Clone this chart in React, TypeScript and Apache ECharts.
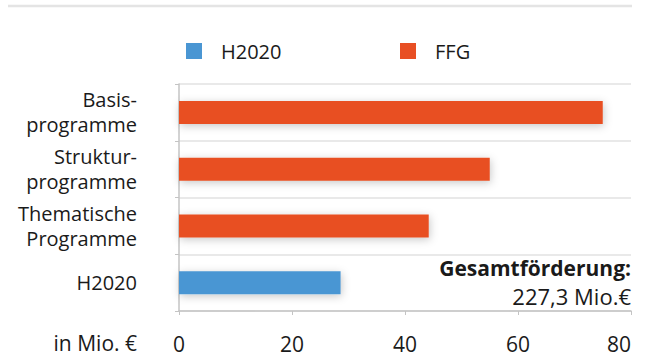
import React, { useEffect, useRef } from "react";
import * as echarts from "echarts";

const categories = ["H2020", "Thematische\nProgramme", "Struktur-\nprogramme", "Basis-\nprogramme"];
const h2020Values = [28.6, null, null, null];
const ffgValues = [null, 44.2, 55.0, 75.0];
const seriesNames = ["H2020", "FFG"];
const totalTitle = "Gesamtförderung:";
const totalValue = "227,3 Mio.€";
const unitLabel = "in Mio. €";

const FONT = "Open Sans";
const TEXT = "#1a1a1a";

export default function App() {
  const ref = useRef<HTMLDivElement>(null);
  useEffect(() => {
    const chart = echarts.init(ref.current!, null, { renderer: "svg" });
    const shadow = { shadowBlur: 8, shadowColor: "rgba(0,0,0,0.22)", shadowOffsetX: 1, shadowOffsetY: 2 };
    const legendText = { fontFamily: FONT, fontSize: 20, color: TEXT, padding: [0, 0, 0, 14] };
    chart.setOption({
      animation: false,
      textStyle: { fontFamily: FONT, color: TEXT },
      legend: [
        { data: [seriesNames[0]], left: 181, top: 36, itemWidth: 16, itemHeight: 16, icon: "rect", textStyle: legendText },
        { data: [seriesNames[1]], left: 395, top: 36, itemWidth: 16, itemHeight: 16, icon: "rect", textStyle: legendText },
      ],
      grid: { left: 179, right: 18, top: 84, bottom: 46, containLabel: false },
      xAxis: {
        type: "value",
        min: 0,
        max: 80,
        interval: 20,
        axisLine: { show: true, lineStyle: { color: "#c4c4c4", width: 1.5 } },
        axisTick: { show: true, length: 4, lineStyle: { color: "#c4c4c4" } },
        splitLine: { show: false },
        axisLabel: { fontFamily: FONT, fontSize: 21, lineHeight: 20, color: TEXT, margin: 23, alignMaxLabel: "right" },
      },
      yAxis: {
        type: "category",
        data: categories,
        axisLine: { show: true, lineStyle: { color: "#c4c4c4", width: 1.5 } },
        axisTick: { show: true, length: 4, lineStyle: { color: "#c4c4c4" } },
        splitLine: { show: true, lineStyle: { color: "#e2e2e2", width: 1.5 } },
        axisLabel: { fontFamily: FONT, fontSize: 20, color: TEXT, margin: 42, lineHeight: 25, align: "right" },
      },
      series: [
        { name: seriesNames[0], type: "bar", stack: "t", barWidth: 23, data: h2020Values, itemStyle: { color: "#4a96d3", ...shadow } },
        { name: seriesNames[1], type: "bar", stack: "t", barWidth: 23, data: ffgValues, itemStyle: { color: "#e84f24", ...shadow } },
      ],
      graphic: [
        { type: "line", shape: { x1: 8, y1: 6, x2: 632, y2: 6 }, style: { stroke: "#e4e4e4", lineWidth: 2.5 } },
        { type: "text", right: 18, top: 257, style: { text: totalTitle, font: `bold 21px "${FONT}"`, fill: TEXT } },
        { type: "text", right: 18, top: 285, style: { text: totalValue, font: `22px "${FONT}"`, fill: TEXT } },
        { type: "text", right: 512, top: 332, style: { text: unitLabel, font: `21px "${FONT}"`, fill: TEXT } },
      ],
    });
    return () => chart.dispose();
  }, []);
  return <div ref={ref} style={{ width: 649, height: 357, position: "absolute", left: 0, top: 0 }} />;
}
